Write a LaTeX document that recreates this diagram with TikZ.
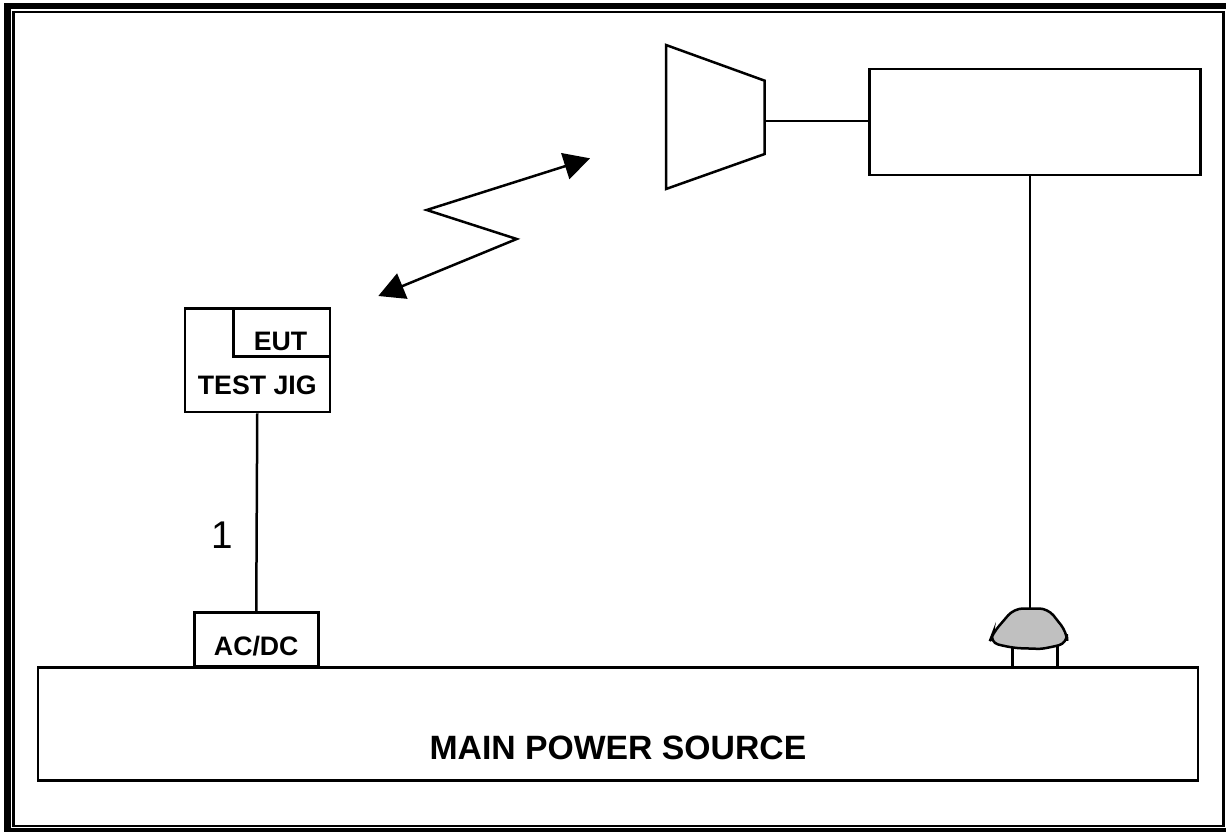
\documentclass[tikz,border=0pt]{standalone}
\usepackage{fontspec}
\setmainfont{Liberation Sans}
\usetikzlibrary{arrows.meta,positioning,calc}
\definecolor{blobgray}{RGB}{192,192,192}

\begin{document}
\begin{tikzpicture}[x=0.02cm,y=-0.02cm,line width=0.05cm,
	box/.style={draw,rectangle,inner sep=0pt,anchor=north west},
	lbl/.style={font=\fontsize{15.2}{17}\selectfont\bfseries,anchor=base},
	big/.style={font=\fontsize{19.2}{22}\selectfont\bfseries,anchor=base}]
	\useasboundingbox (0,0) rectangle (1226,831);
	% double frame
	\draw [line width=0.13cm] (7.5,6) rectangle (1229.5,831.5);
	\draw (13.7,12) rectangle (1223.7,826);
	% boxes
	\node [box,minimum width=1160*0.02cm,minimum height=113*0.02cm] (mains) at (36.7,666) {};
	\node [box,minimum width=124*0.02cm,minimum height=54*0.02cm] (acdc) at (193,611) {};
	\node [box,minimum width=145*0.02cm,minimum height=103.5*0.02cm] (jig) at (183.5,307.3) {};
	\node [box,minimum width=96.5*0.02cm,minimum height=48*0.02cm,anchor=north east] (eut) at (jig.north east) {};
	\node [box,minimum width=331*0.02cm,minimum height=106*0.02cm] (rx) at (868,68) {};
	\node [lbl] at ($(eut.south)+(-1,-7)$) {EUT};
	\node [lbl] at ($(jig.south)+(0,-19)$) {TEST JIG};
	\node [lbl] at ($(acdc.south)+(0,-12.3)$) {AC/DC};
	\node [big] at ($(mains.south)+(0,-22)$) {MAIN POWER SOURCE};
	\node [font=\fontsize{22}{24}\selectfont,anchor=base] (cable) at (222.7,548) {1};
	\draw (jig.south) -- (acdc.north);
	% antenna horn
	\coordinate (hornmouth) at (764.7,121);
	\draw (666,45) -- (764.7,80.7) -- (764.7,154) -- (666,189) -- cycle;
	\draw (hornmouth) -- (hornmouth -| rx.west);
	% mast with ground plug
	\coordinate (masttop) at (1030,608.5);
	\draw (masttop |- rx.south) -- (masttop);
	\draw (1012.3,646) -- (1012.3,666) (1057.7,646) -- (1057.7,666);
	\draw [fill=blobgray,rounded corners=5] (1014,608.5) -- (1048,608.5) -- (1066.5,632) -- (1067.5,643)
		.. controls (1052,647) and (1042,649) .. (1030,648.5) .. controls (1012,648) and (1000,645) .. (989.5,642)
		-- (993,633) -- cycle;
	% radio link
	\coordinate (zA) at (378.3,296);
	\coordinate (zB) at (516.7,239);
	\coordinate (zC) at (426.7,210);
	\coordinate (zD) at (590,158.3);
	\draw [{Triangle[length=0.52cm,width=0.54cm]}-{Triangle[length=0.52cm,width=0.54cm]}] (zA) -- (zB) -- (zC) -- (zD);
\end{tikzpicture}
\end{document}
